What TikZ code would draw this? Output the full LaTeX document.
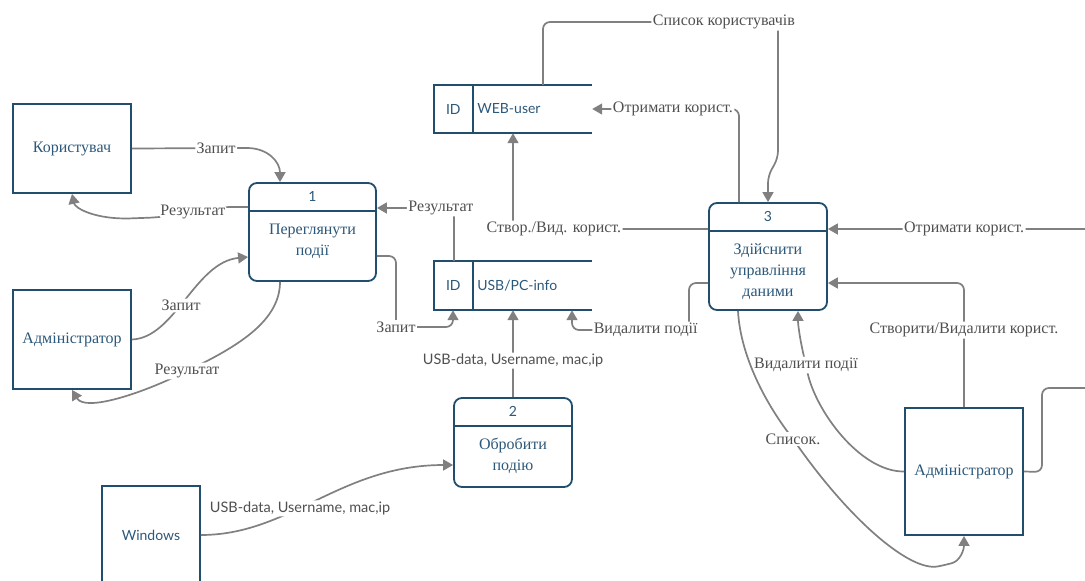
\documentclass[tikz,border=0pt]{standalone}
\usepackage{fontspec}
\setmainfont{Liberation Serif}
\newfontfamily\lato{Lato}
\usetikzlibrary{arrows.meta}
\definecolor{boxblue}{RGB}{33,78,108}
\definecolor{txtblue}{RGB}{44,88,122}
\definecolor{flowgray}{RGB}{128,128,128}
\definecolor{lblgray}{RGB}{80,80,80}
\tikzset{
  ent/.style={draw=boxblue, line width=1.8pt, fill=white, text=txtblue, align=center, font=\fontsize{16}{21}\selectfont},
  proc/.style={draw=boxblue, line width=1.8pt, rounded corners=8pt, fill=white},
  procline/.style={draw=boxblue, line width=1.8pt},
  proctxt/.style={text=txtblue, align=center, font=\fontsize{16}{21}\selectfont},
  numtxt/.style={text=txtblue, font=\lato\fontsize{14}{16}\selectfont},
  store/.style={inner sep=0pt},
  storeline/.style={draw=boxblue, line width=1.8pt},
  storetxt/.style={text=txtblue, font=\lato\fontsize{14}{16}\selectfont},
  flow/.style={draw=flowgray, line width=1.7pt, rounded corners=7pt, -{Triangle[width=11pt,length=10pt]}},
  plainflow/.style={draw=flowgray, line width=1.7pt, rounded corners=7pt},
  lbl/.style={fill=white, text=lblgray, inner sep=1.5pt, font=\fontsize{16}{18}\selectfont},
  lbls/.style={lbl, font=\lato\fontsize{14.5}{17}\selectfont},
}
\begin{document}
\begin{tikzpicture}[x=1pt, y=-1pt]
\useasboundingbox (0,0) rectangle (1085,581);
\clip (0,0) rectangle (1085,581);
% entities
\node[ent, minimum width=118pt, minimum height=89pt] (user) at (72,148.5) {Користувач};
\node[ent, minimum width=118pt, minimum height=99pt] (admL) at (72,339.5) {Адміністратор};
\node[ent, minimum width=98pt, minimum height=98pt, font=\lato\fontsize{14}{16}\selectfont] (win) at (151,535) {Windows};
\node[ent, minimum width=118pt, minimum height=127pt] (admR) at (964,471.5) {Адміністратор};
% processes
\node[proc, minimum width=127pt, minimum height=98pt] (p1) at (312.5,232) {};
\draw[procline] ([yshift=-29pt]p1.north west) -- ([yshift=-29pt]p1.north east);
\node[numtxt] (p1num) at ([yshift=-14.5pt]p1.north) {1};
\node[proctxt] (p1txt) at ([yshift=-9pt]p1.center) {Переглянути\\події};
\node[proc, minimum width=118pt, minimum height=89pt] (p2) at (513,442.5) {};
\draw[procline] ([yshift=-29pt]p2.north west) -- ([yshift=-29pt]p2.north east);
\node[numtxt] (p2num) at ([yshift=-14.5pt]p2.north) {2};
\node[proctxt] (p2txt) at ([yshift=-13.5pt]p2.center) {Обробити\\подію};
\node[proc, minimum width=118pt, minimum height=107pt] (p3) at (768,256.5) {};
\draw[procline] ([yshift=-29pt]p3.north west) -- ([yshift=-29pt]p3.north east);
\node[numtxt] (p3num) at ([yshift=-14.5pt]p3.north) {3};
\node[proctxt] (p3txt) at ([yshift=-15pt]p3.center) {Здійснити\\управління\\даними};
% data stores
\node[store, minimum width=158pt, minimum height=48pt] (web) at (513,109) {};
\draw[storeline] (web.north east) -- (web.north west) -- (web.south west) -- (web.south east);
\draw[storeline] ([xshift=39pt]web.north west) -- ([xshift=39pt]web.south west);
\node[storetxt] (webid) at ([xshift=19.5pt]web.west) {ID};
\node[storetxt, anchor=west] (webname) at ([xshift=40pt]web.west) {WEB-user};
\node[store, minimum width=158pt, minimum height=49pt] (usb) at (513,285.5) {};
\draw[storeline] (usb.north east) -- (usb.north west) -- (usb.south west) -- (usb.south east);
\draw[storeline] ([xshift=39pt]usb.north west) -- ([xshift=39pt]usb.south west);
\node[storetxt] (usbid) at ([xshift=19.5pt]usb.west) {ID};
\node[storetxt, anchor=west] (usbname) at ([xshift=40pt]usb.west) {USB/PC-info};
% free ends beyond the right edge
\coordinate (rin) at (1095,229);
\coordinate (rout) at (1095,388);
% flows
\draw[flow] (user.east) -- node[lbl, pos=0.78]{Запит} (240,148) .. controls (268,148) and (280,162) .. ([xshift=-32.5pt]p1.north);
\draw[flow] ([yshift=25pt]p1.west) -- (228,207) .. controls (205,208) and (175,217) .. node[lbl, pos=0.45]{Результат} (140,218) .. controls (95,220) and (75,208) .. (user.south);
\draw[flow] (admL.east) .. controls (175,338) and (195,262) .. node[lbl, pos=0.45]{Запит} ([yshift=-25pt]p1.west);
\draw[flow] ([xshift=-32.5pt]p1.south) .. controls (280,320) and (240,345) .. (187,371) node[lbl]{Результат} .. controls (140,394) and (85,412) .. (admL.south);
\draw[flow] ([yshift=-24pt]p1.east) -- (396,256) -- (396,327) node[lbl]{Запит} -- (453,327) -- ([xshift=-60pt]usb.south);
\draw[flow] ([xshift=-59pt]usb.north) -- (454,208) -- node[lbl, pos=0.17]{Результат} ([yshift=24pt]p1.east);
\draw[flow] ([yshift=27.5pt]p3.west) -- node[lbl, pos=0.79]{Створ./Вид. корист.} (513,229) -- (web.south);
\draw[flow] ([xshift=30pt]web.north) -- (543,22) -- node[lbl, pos=0.77]{Список користувачів} (778,22) -- (778,158) -- (768,176) -- (p3.north);
\draw[flow] ([xshift=-29pt]p3.north) -- (739,109) -- node[lbl, pos=0.45]{Отримати корист.} (web.east);
\draw[flow] ([yshift=-26.5pt]p3.west) -- (689,283) -- (689,330) -- node[lbl, pos=0.37]{Видалити події} (572,330) -- ([xshift=59pt]usb.south);
\draw[flow] (p2.north) -- node[lbls, pos=0.42]{USB-data, Username, mac,ip} (usb.south);
\draw[flow] (win.east) .. controls (290,535) and (340,465) .. node[lbls, pos=0.42]{USB-data, Username, mac,ip} ([yshift=-22.5pt]p2.west);
\draw[flow] (rin) -- node[lbl, pos=0.49]{Отримати корист.} ([yshift=27.5pt]p3.east);
\draw[flow] (admR.north) -- node[lbl, pos=0.62]{Створити/Видалити корист.} (964,283) -- ([yshift=-26.5pt]p3.east);
\draw[plainflow] (admR.east) -- (1042,472) -- (1042,388) -- (rout);
\draw[flow] (admR.west) .. controls (860,472) and (815,410) .. (806,365) node[lbl]{Видалити події} .. controls (800,340) and (798,325) .. ([xshift=30pt]p3.south);
\draw[flow] ([xshift=-30pt]p3.south) .. controls (740,350) and (760,395) .. (793,439) node[lbl]{Список.} .. controls (850,520) and (910,572) .. (945,565) .. controls (960,561) and (964,550) .. (admR.south);
\end{tikzpicture}
\end{document}
